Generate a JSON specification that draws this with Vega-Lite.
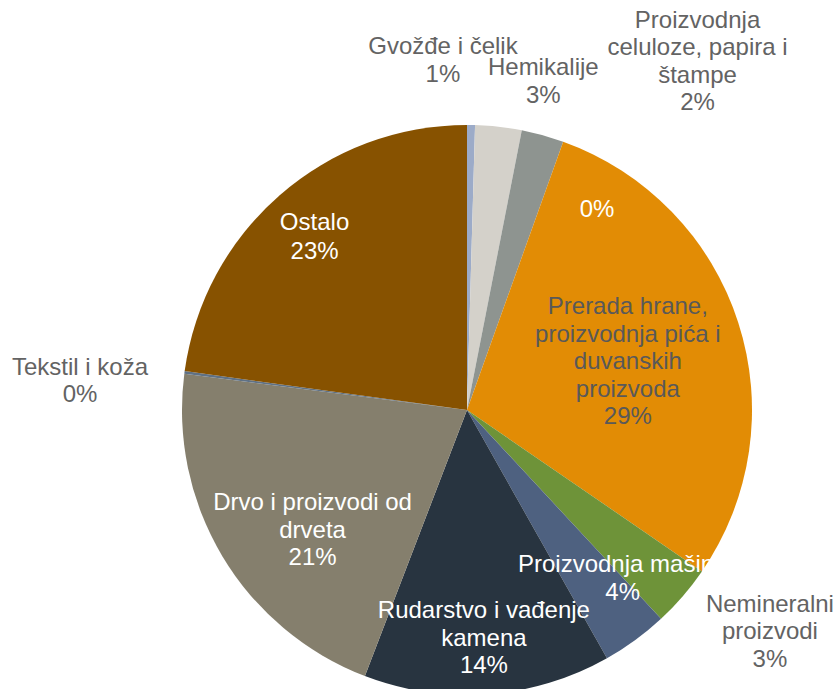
{
  "$schema": "https://vega.github.io/schema/vega-lite/v6.json",
  "width": 740,
  "height": 558,
  "autosize": {"type": "none"},
  "padding": {"left": 97, "top": 131, "right": 0, "bottom": 0},
  "background": "white",
  "config": {"view": {"stroke": null}, "text": {"font": "Liberation Sans", "fontSize": 24, "lineHeight": 27.5, "lineBreak": "\n"}},
  "data": {
    "values": [
      {"order": 1, "name": "Gvožđe i čelik", "value": 0.45, "label": "Gvožđe i čelik\n1%"},
      {"order": 2, "name": "Hemikalije", "value": 2.63, "label": "Hemikalije\n3%"},
      {"order": 3, "name": "Proizvodnja celuloze, papira i štampe", "value": 2.4, "label": "Proizvodnja\nceluloze, papira i\nštampe\n2%"},
      {"order": 4, "name": "(bez naziva)", "value": 0, "label": "0%"},
      {"order": 5, "name": "Prerada hrane, proizvodnja pića i duvanskih proizvoda", "value": 29.1, "label": "Prerada hrane,\nproizvodnja pića i\nduvanskih\nproizvoda\n29%"},
      {"order": 6, "name": "Nemineralni proizvodi", "value": 3.5, "label": "Nemineralni\nproizvodi\n3%"},
      {"order": 7, "name": "Proizvodnja mašina", "value": 3.75, "label": "Proizvodnja mašina\n4%"},
      {"order": 8, "name": "Rudarstvo i vađenje kamena", "value": 14.0, "label": "Rudarstvo i vađenje\nkamena\n14%"},
      {"order": 9, "name": "Drvo i proizvodi od drveta", "value": 21.2, "label": "Drvo i proizvodi od\ndrveta\n21%"},
      {"order": 10, "name": "Tekstil i koža", "value": 0.15, "label": "Tekstil i koža\n0%"},
      {"order": 11, "name": "Ostalo", "value": 22.82, "label": "Ostalo\n23%"}
    ]
  },
  "encoding": {
    "theta": {"field": "value", "type": "quantitative", "stack": true},
    "order": {"field": "order", "type": "quantitative"}
  },
  "layer": [
    {
      "mark": {"type": "arc", "outerRadius": 285},
      "encoding": {
        "color": {
          "field": "name",
          "type": "nominal",
          "legend": null,
          "scale": {
            "domain": ["Gvožđe i čelik", "Hemikalije", "Proizvodnja celuloze, papira i štampe", "(bez naziva)", "Prerada hrane, proizvodnja pića i duvanskih proizvoda", "Nemineralni proizvodi", "Proizvodnja mašina", "Rudarstvo i vađenje kamena", "Drvo i proizvodi od drveta", "Tekstil i koža", "Ostalo"],
            "range": ["#9cabc8", "#d4d1ca", "#8e9490", "#a5a5a5", "#e28c05", "#6e9339", "#4e6180", "#283440", "#857f6d", "#5f7185", "#875200"]
          }
        }
      }
    },
    {"mark": {"type": "text", "radius": 232, "dy": -12, "lineHeight": 28.5, "fill": "white"}, "encoding": {"text": {"condition": {"test": "datum.order === 11", "field": "label", "type": "nominal"}, "value": ""}}},
    {"mark": {"type": "text", "radius": 195, "dx": 13, "dy": -7, "fill": "white"}, "encoding": {"text": {"condition": {"test": "datum.order === 9", "field": "label", "type": "nominal"}, "value": ""}}},
    {"mark": {"type": "text", "radius": 230, "dy": -28, "fill": "white"}, "encoding": {"text": {"condition": {"test": "datum.order === 8", "field": "label", "type": "nominal"}, "value": ""}}},
    {"mark": {"type": "text", "radius": 230, "dx": 20, "dy": -30.6, "fill": "white"}, "encoding": {"text": {"condition": {"test": "datum.order === 7", "field": "label", "type": "nominal"}, "value": ""}}},
    {"mark": {"type": "text", "radius": 169, "dy": -51, "fill": "#595959"}, "encoding": {"text": {"condition": {"test": "datum.order === 5", "field": "label", "type": "nominal"}, "value": ""}}},
    {"mark": {"type": "text", "radius": 238.5, "dx": 49.5, "dy": 24.5, "fill": "white"}, "encoding": {"text": {"condition": {"test": "datum.order === 4", "field": "label", "type": "nominal"}, "value": ""}}},
    {"mark": {"type": "text", "radius": 350, "dx": -29, "dy": -13, "fill": "#636363"}, "encoding": {"text": {"condition": {"test": "datum.order === 1", "field": "label", "type": "nominal"}, "value": ""}}},
    {"mark": {"type": "text", "radius": 337, "dx": 39, "dy": -7, "fill": "#636363"}, "encoding": {"text": {"condition": {"test": "datum.order === 2", "field": "label", "type": "nominal"}, "value": ""}}},
    {"mark": {"type": "text", "radius": 416, "dx": 120, "dy": 12, "fill": "#636363"}, "encoding": {"text": {"condition": {"test": "datum.order === 3", "field": "label", "type": "nominal"}, "value": ""}}},
    {"mark": {"type": "text", "radius": 375, "dx": 19, "dy": -50, "fill": "#636363"}, "encoding": {"text": {"condition": {"test": "datum.order === 6", "field": "label", "type": "nominal"}, "value": ""}}},
    {"mark": {"type": "text", "radius": 388, "dx": -2.4, "dy": 9, "fill": "#636363"}, "encoding": {"text": {"condition": {"test": "datum.order === 10", "field": "label", "type": "nominal"}, "value": ""}}}
  ]
}
